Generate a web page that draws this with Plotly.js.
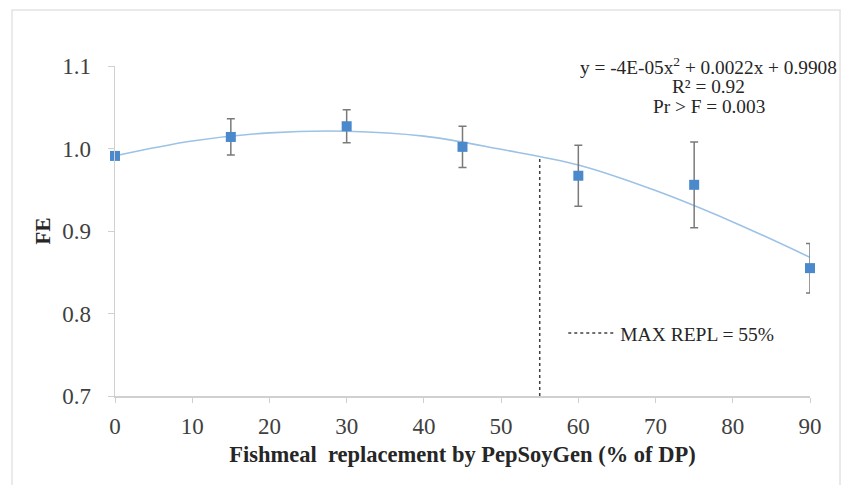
<!DOCTYPE html>
<html>
<head>
<meta charset="utf-8">
<script src="https://cdn.plot.ly/plotly-3.0.1.min.js"></script>
<style>
  html, body { margin: 0; padding: 0; background: #fff; }
  #chart { width: 847px; height: 485px; }
</style>
</head>
<body>
<div id="chart"></div>
<script>
const replacement = [0, 15, 30, 45, 60, 75, 90];
const feMean = [0.991, 1.014, 1.027, 1.002, 0.967, 0.956, 0.855];
const feErr = [0, 0.022, 0.020, 0.025, 0.037, 0.052, 0.030];

// Quadratic trend line
const trendX = [0, 10, 20, 30, 40, 50, 60, 70, 80, 90];
const trendY = [0.991, 1.009, 1.019, 1.021, 1.015, 0.999, 0.980, 0.949, 0.911, 0.868];

// Maximum replacement marker
const maxReplX = [55, 55];
const maxReplY = [0.7, 0.991];

const xTicks = [0, 10, 20, 30, 40, 50, 60, 70, 80, 90];
const yTicks = [0.7, 0.8, 0.9, 1.0, 1.1];
const yTickText = ['0.7', '0.8', '0.9', '1.0', '1.1'];

const eqLines = ['y = -4E-05x<sup>2</sup> + 0.0022x + 0.9908', 'R² = 0.92', 'Pr > F = 0.003'];

const serif = '"Liberation Serif", "Times New Roman", serif';

const traces = [
  {
    x: trendX, y: trendY, type: 'scatter', mode: 'lines',
    line: { color: '#9cc2e5', width: 1.6, shape: 'spline' },
    showlegend: false, hoverinfo: 'skip', cliponaxis: false
  },
  {
    x: maxReplX, y: maxReplY, type: 'scatter', mode: 'lines',
    name: 'MAX REPL = 55%',
    line: { color: '#404040', width: 1.5, dash: 'dot' },
    showlegend: true
  },
  {
    x: replacement, y: feMean, type: 'scatter', mode: 'markers',
    marker: { symbol: 'square', size: 10, color: '#4a89cc' },
    error_y: { type: 'data', array: feErr, visible: true, color: '#7a7a7a', thickness: 1.5, width: 4 },
    showlegend: false, cliponaxis: false
  }
];

const layout = {
  width: 847, height: 485,
  margin: { l: 115, r: 37, t: 66, b: 89 },
  paper_bgcolor: '#ffffff', plot_bgcolor: '#ffffff',
  font: { family: serif, color: '#404040', size: 20 },
  xaxis: {
    range: [0, 90], tickvals: xTicks, ticktext: xTicks.map(String),
    showgrid: false, zeroline: false,
    showline: true, linecolor: '#d0d0d0', linewidth: 1.5,
    ticks: 'outside', ticklen: 5, tickcolor: '#d0d0d0',
    ticklabelstandoff: 4,
    tickfont: { family: serif, size: 23, color: '#404040' },
    title: { text: '<b>Fishmeal  replacement by PepSoyGen (% of DP)</b>', font: { family: serif, size: 22.5, color: '#262626' }, standoff: 8 }
  },
  yaxis: {
    range: [0.7, 1.1], tickvals: yTicks, ticktext: yTickText,
    showgrid: false, zeroline: false,
    showline: true, linecolor: '#d0d0d0', linewidth: 1.5,
    ticks: 'outside', ticklen: 6, tickcolor: '#d0d0d0',
    ticklabelstandoff: 12,
    tickfont: { family: serif, size: 23, color: '#404040' },
    title: { text: '<b>FE</b>', font: { family: serif, size: 21, color: '#262626' }, standoff: 6 }
  },
  legend: {
    x: 0.645, y: 0.19, xanchor: 'left', yanchor: 'middle',
    bgcolor: 'rgba(0,0,0,0)', font: { family: serif, size: 19.5, color: '#262626' },
    itemwidth: 47
  },
  annotations: eqLines.map((t, i) => ({
    xref: 'paper', yref: 'paper', x: 0.854, y: 1.0 - i * 0.062,
    xanchor: 'center', yanchor: 'middle', showarrow: false,
    text: t, font: { family: serif, size: 19.3, color: '#262626' }
  })),
  shapes: [
    { type: 'rect', xref: 'paper', yref: 'paper', x0: -0.1482, x1: 1.0432, y0: -0.29, y1: 1.1697,
      line: { color: '#e3e3e3', width: 1.5 }, fillcolor: 'rgba(0,0,0,0)', layer: 'below' }
  ],
  showlegend: true
};

Plotly.newPlot('chart', traces, layout, { displayModeBar: false, staticPlot: true });
</script>
</body>
</html>
